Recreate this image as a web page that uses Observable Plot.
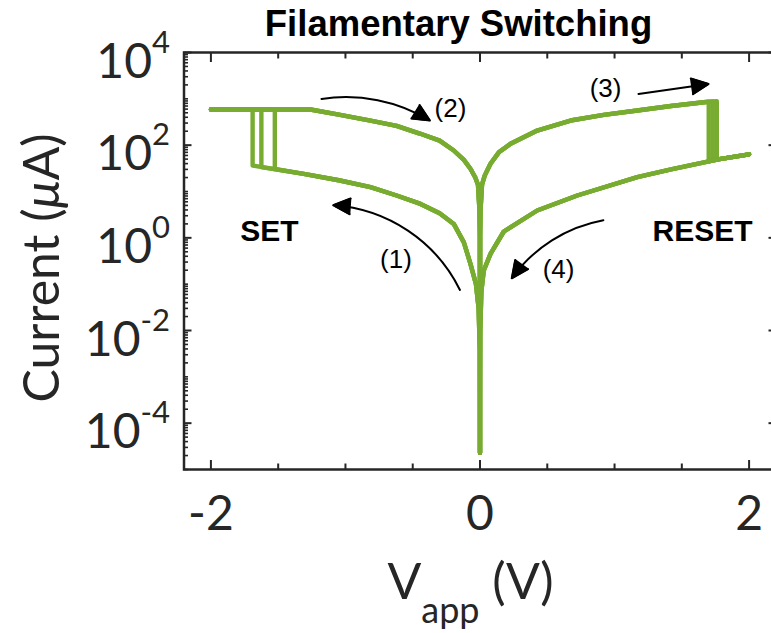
<!DOCTYPE html>
<html><head><meta charset="utf-8">
<script src="https://cdn.jsdelivr.net/npm/d3@7"></script>
<script src="https://cdn.jsdelivr.net/npm/@observablehq/plot@0.6"></script>
<style>
html,body{margin:0;padding:0;overflow:hidden;background:#fff;}
</style></head><body><div id="chart"></div>
<script>
// ---------------- data (current in µA, voltage in V) ----------------
const compliance = 590;
// lower-left HRS branch (SET sweep, 0 -> negative)
const hrsNegV = [0, -0.002, -0.01, -0.03, -0.071, -0.12, -0.195, -0.30, -0.442, -0.62, -0.814, -1.05, -1.31];
const hrsNegI = [2.3e-5, 0.004, 0.03, 0.1, 0.275, 0.8, 2.0, 3.4, 5.4, 8.2, 12.4, 17.5, 24.1];
const setV = [-1.69, -1.625, -1.525];
const setLowI = [36.4, 33.5, 30.9];
// upper-left LRS branch (return sweep, -2 -> 0)
const lrsNegV = [-2.0, -1.6, -1.26, -1.04, -0.814, -0.62, -0.442, -0.30, -0.195, -0.12, -0.071, -0.035, -0.015, -0.004, -0.001, 0];
const lrsNegI = [590, 590, 589, 450, 340, 260, 176, 125, 76.7, 48, 31, 20, 14, 4, 1, 0.02];
// upper-right LRS branch (RESET sweep, 0 -> positive)
const lrsPosV = [0, 0.001, 0.004, 0.015, 0.035, 0.078, 0.14, 0.227, 0.425, 0.673, 0.92, 1.169, 1.42, 1.664];
const lrsPosI = [0.02, 1, 4, 14, 22, 39.6, 70, 107, 207, 340, 450, 560, 700, 845];
const resetV = [1.70, 1.73, 1.76];
const resetHighI = [870, 880, 890];
const resetLowI = [45, 47, 49];
// lower-right HRS branch (0 -> 2 V and back)
const hrsPosV = [0, 0.002, 0.01, 0.028, 0.078, 0.177, 0.425, 0.723, 1.169, 1.42, 1.78, 2.0];
const hrsPosI = [2.3e-5, 0.01, 0.07, 0.197, 0.452, 1.37, 3.89, 8.2, 20.4, 30, 50, 63.5];

// annotations
const arrowX1 = [-0.149, -1.178, 1.178, 0.917];
const arrowI1 = [0.075, 995, 1274, 2.40];
const arrowX2 = [-1.091, -0.372, 1.699, 0.236];
const arrowI2 = [5.05, 340, 2089, 0.134];
const arrowBend = [-30, 20, 0, -22];
const stepText = ["(1)", "(2)", "(3)", "(4)"];
const stepV = [-0.625, -0.22, 0.933, 0.584];
const stepI = [0.34, 618, 1630, 0.207];
const stateText = ["SET", "RESET"];
const stateV = [-1.565, 1.654];
const stateI = [1.37, 1.37];

// axes
const xMajor = [-2, 0, 2];
const xTickLabels = ["-2", "0", "2"];
const xMinor = [-1.5, -1, -0.5, 0.5, 1, 1.5];
const yMajor = [1e-4, 1e-2, 1, 1e2, 1e4];
const yTickLabels = ["10^-4", "10^-2", "10^0", "10^2", "10^4"];
const yMinor = d3.range(-5, 4).flatMap(e => d3.range(1, 10).map(k => k * 10 ** e))
  .filter(v => !yMajor.some(m => Math.abs(m - v) / m < 1e-9));

const title = "Filamentary Switching";
const xLabel = "Vapp (V)";
const yLabel = "Current (μA)";

// ---------------- build sweep rows ----------------
const rows = [];
const add = (id, v, i) => rows.push({id, v, i});
for (let k = 0; k < 3; k++) {
  let id = "set" + k;
  hrsNegV.forEach((v, j) => { if (v > setV[k]) add(id, v, hrsNegI[j]); });
  add(id, setV[k], setLowI[k]);
  add(id, setV[k], compliance);
  add(id, -2, compliance);
  id = "ret" + k;
  lrsNegV.forEach((v, j) => add(id, v, lrsNegI[j]));
  id = "reset" + k;
  lrsPosV.forEach((v, j) => { if (v < resetV[k]) add(id, v, lrsPosI[j]); });
  add(id, resetV[k], resetHighI[k]);
  add(id, resetV[k], resetLowI[k]);
  hrsPosV.forEach((v, j) => { if (v > resetV[k]) add(id, v, hrsPosI[j]); });
  id = "back" + k;
  for (let j = hrsPosV.length - 1; j >= 0; j--) add(id, hrsPosV[j], hrsPosI[j]);
}
const arrowMarks = arrowX1.map((d, j) => Plot.arrow([{x1: d, y1: arrowI1[j], x2: arrowX2[j], y2: arrowI2[j]}],
  {x1: "x1", y1: "y1", x2: "x2", y2: "y2", bend: arrowBend[j], stroke: "black", strokeWidth: 2, headLength: 14, headAngle: 50}));
const steps = stepText.map((t, j) => ({t, v: stepV[j], i: stepI[j]}));
const states = stateText.map((t, j) => ({t, v: stateV[j], i: stateI[j]}));

const green = "#77AC30", ink = "#262626";
const axisFont = "Lato, 'Open Sans', sans-serif";
const helv = "'Liberation Sans', Arial, Helvetica, sans-serif";

const tickAxes = [];
for (const anchor of ["bottom", "top"]) {
  tickAxes.push(Plot.axisX(xMajor, {anchor, tickSize: -9, strokeWidth: 2, stroke: ink, tickFormat: () => "", label: null}));
  tickAxes.push(Plot.axisX(xMinor, {anchor, tickSize: -5.5, strokeWidth: 2, stroke: ink, tickFormat: () => "", label: null}));
}
for (const anchor of ["left", "right"]) {
  tickAxes.push(Plot.axisY(yMajor, {anchor, tickSize: -8, strokeWidth: 2, stroke: ink, tickFormat: () => "", label: null}));
  tickAxes.push(Plot.axisY(yMinor, {anchor, tickSize: -4.5, strokeWidth: 1.6, stroke: ink, tickFormat: () => "", label: null}));
}

const svg = Plot.plot({
  width: 777, height: 633,
  marginLeft: 183.5, marginRight: 1.5, marginTop: 52, marginBottom: 164,
  style: "max-width:none;background:#fff;font-family:Lato,sans-serif;",
  x: {domain: [-2.2, 2.2]},
  y: {type: "log", domain: [1e-5, 1e4]},
  marks: [
    Plot.line(rows, {x: "v", y: "i", z: "id", stroke: green, strokeWidth: 4.4, strokeLinejoin: "round", strokeLinecap: "round"}),
    Plot.frame({stroke: ink, strokeWidth: 2.5}),
    ...tickAxes,
    Plot.axisX(xMajor, {anchor: "bottom", tickSize: 0, tickPadding: 26, fontSize: 48, fill: ink, fontFamily: axisFont,
      tickFormat: d => xTickLabels[xMajor.indexOf(d)], label: null}),
    Plot.axisY(yMajor, {anchor: "left", tickSize: 0, tickPadding: 14, fontSize: 48, fill: ink, fontFamily: axisFont,
      tickFormat: d => yTickLabels[yMajor.indexOf(d)], label: null}),
    ...arrowMarks,
    Plot.text(steps, {x: "v", y: "i", text: "t", fontSize: 26, fontFamily: helv, fill: "black"}),
    Plot.text(states, {x: "v", y: "i", text: "t", fontSize: 30, fontWeight: "bold", fontFamily: helv, fill: "black"}),
    Plot.text([title], {text: d => d, frameAnchor: "top", textAnchor: "middle", lineAnchor: "middle", dx: -21.5, dy: -28, fontSize: 36.5, fontWeight: "bold", fontFamily: helv, fill: "black"}),
    Plot.text([yLabel], {text: d => d, frameAnchor: "left", textAnchor: "middle", lineAnchor: "middle", dx: -141.5, dy: 7, rotate: -90, fontSize: 50, fontFamily: axisFont, fill: ink}),
    Plot.text([xLabel], {text: d => d, frameAnchor: "bottom", textAnchor: "middle", lineAnchor: "middle", dx: -9.5, dy: 113, fontSize: 50, fontFamily: axisFont, fill: ink})
  ]
});

// ---------- text refinements (superscripts / subscripts / italics) ----------
const S = d3.select(svg);
S.selectAll('g[aria-label="y-axis tick label"] text').each(function () {
  const t = this.textContent;
  if (!t.includes("^")) return;
  const [b, e] = t.split("^");
  const s = d3.select(this);
  s.text(null).attr("y", 25);
  s.append("tspan").text(b);
  s.append("tspan").attr("dy", -25).attr("font-size", 31).text(e);
});
S.selectAll('text').filter(function () { return this.textContent === xLabel; }).each(function () {
  const s = d3.select(this);
  s.text(null);
  s.append("tspan").text("V");
  s.append("tspan").attr("dy", 24).attr("font-size", 36).text("app");
  s.append("tspan").attr("dy", -24).text(" (V)");
});
S.selectAll('text').filter(function () { return this.textContent === yLabel; }).each(function () {
  const s = d3.select(this);
  s.text(null);
  s.append("tspan").text("Current (");
  s.append("tspan").attr("font-style", "italic").text("μ");
  s.append("tspan").text("A)");
});
// filled arrow heads
S.selectAll('g[aria-label="arrow"] path').each(function () {
  const d = this.getAttribute("d");
  const k = d.lastIndexOf("M");
  if (k <= 0) return;
  const p = document.createElementNS("http://www.w3.org/2000/svg", "path");
  p.setAttribute("d", d.slice(k) + "Z");
  p.setAttribute("fill", "black");
  p.setAttribute("stroke", "black");
  p.setAttribute("stroke-width", "1.5");
  p.setAttribute("stroke-linejoin", "miter");
  this.parentNode.appendChild(p);
});
document.getElementById("chart").appendChild(svg);
</script></body></html>
